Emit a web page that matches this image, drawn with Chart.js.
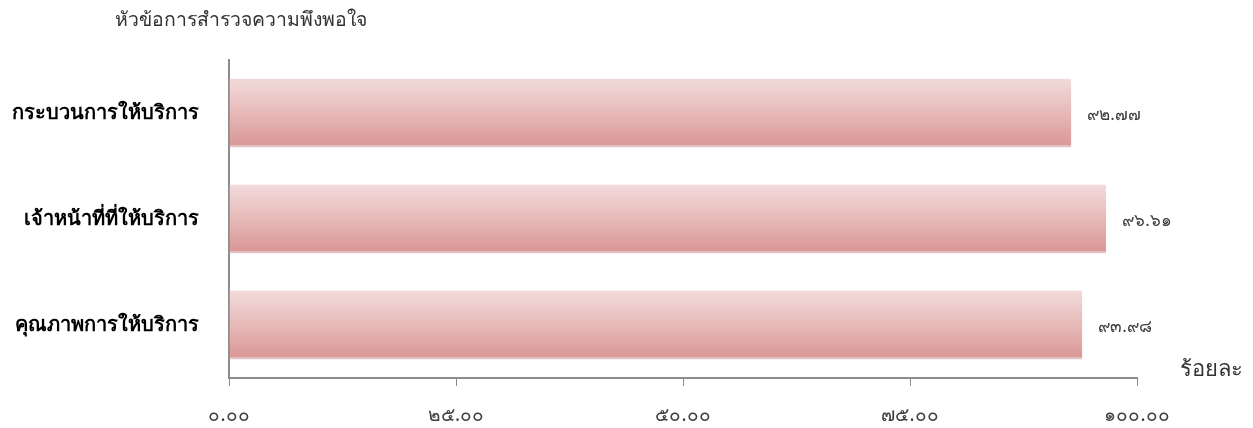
<!DOCTYPE html>
<html lang="th">
<head>
<meta charset="UTF-8" />
<title>ความพึงพอใจ</title>
<script src="https://cdn.jsdelivr.net/npm/chart.js@4"></script>
<style>
  html, body { margin: 0; padding: 0; background: #fff; }
  #wrap { width: 1253px; height: 428px; }
</style>
</head>
<body>
<div id="wrap"><canvas id="myChart" width="1253" height="428"></canvas></div>
<script>
  // ข้อมูล
  const categories = ['กระบวนการให้บริการ', 'เจ้าหน้าที่ที่ให้บริการ', 'คุณภาพการให้บริการ'];
  const values = [92.77, 96.61, 93.98];
  const axisMin = 0, axisMax = 100, axisStep = 25;
  const yTitle = 'หัวข้อการสำรวจความพึงพอใจ';
  const xTitle = 'ร้อยละ';

  const FONT = "Tahoma, 'Noto Sans', 'DejaVu Sans', sans-serif";
  const BAR_PCT = 0.65;
  const thaiDigits = '๐๑๒๓๔๕๖๗๘๙';
  function toThai(s) {
    return String(s).replace(/[0-9]/g, d => thaiDigits[+d]);
  }

  // ไล่สีแต่ละแท่งจากบนลงล่าง (function => options ไม่ถูกแชร์ระหว่างแท่ง)
  function barFill(c) {
    const s = c.chart.scales.y;
    if (!s || !s.height) return '#e6b9b8';
    const center = s.getPixelForValue(c.dataIndex);
    const half = s.height / categories.length * BAR_PCT / 2;
    const g = c.chart.ctx.createLinearGradient(0, center - half, 0, center + half);
    g.addColorStop(0, '#f2dbdb');
    g.addColorStop(0.5, '#e6b9b8');
    g.addColorStop(1, '#d99594');
    return g;
  }

  // ป้ายค่า + ชื่อแกน
  const labelsPlugin = {
    id: 'labelsPlugin',
    afterDatasetsDraw(chart) {
      const c = chart.ctx;
      c.save();
      c.fillStyle = '#404040';
      c.font = '17px ' + FONT;
      c.textBaseline = 'middle';
      c.textAlign = 'left';
      chart.getDatasetMeta(0).data.forEach((el, i) => {
        c.fillText(toThai(values[i].toFixed(2)), el.x + 16, el.y + 2);
      });
      c.fillStyle = '#333';
      c.font = '19.4px ' + FONT;
      c.fillText(yTitle, 115, 20);
      c.font = '22px ' + FONT;
      c.fillText(xTitle, 1180, 370);
      c.restore();
    }
  };

  const ctx = document.getElementById('myChart').getContext('2d');
  const myChart = new Chart(ctx, {
    type: 'bar',
    data: {
      labels: categories,
      datasets: [{
        data: values,
        backgroundColor: barFill,
        borderColor: '#e3c3cc',
        borderWidth: { bottom: 2, top: 0, left: 0, right: 0 },
        borderSkipped: false,
        barPercentage: BAR_PCT,
        categoryPercentage: 1
      }]
    },
    options: {
      indexAxis: 'y',
      responsive: false,
      animation: false,
      layout: { padding: { top: 60, right: 116, left: 0, bottom: 0 } },
      plugins: {
        legend: { display: false },
        tooltip: { enabled: false }
      },
      scales: {
        x: {
          min: axisMin,
          max: axisMax,
          afterFit(scale) { scale.height = 50; },
          grid: { drawOnChartArea: false, drawTicks: true, tickLength: 8, color: '#8c8c8c' },
          border: { color: '#8c8c8c', width: 2 },
          ticks: {
            stepSize: axisStep,
            padding: 18,
            color: '#404040',
            font: { family: FONT, size: 19 },
            callback: v => toThai(Number(v).toFixed(2))
          }
        },
        y: {
          afterFit(scale) { scale.width = 229; },
          grid: { display: false, drawTicks: false },
          border: { color: '#8c8c8c', width: 2 },
          ticks: {
            padding: 30,
            color: '#000',
            font: { family: FONT, size: 20, weight: 'bold' }
          }
        }
      }
    },
    plugins: [labelsPlugin]
  });
</script>
</body>
</html>
